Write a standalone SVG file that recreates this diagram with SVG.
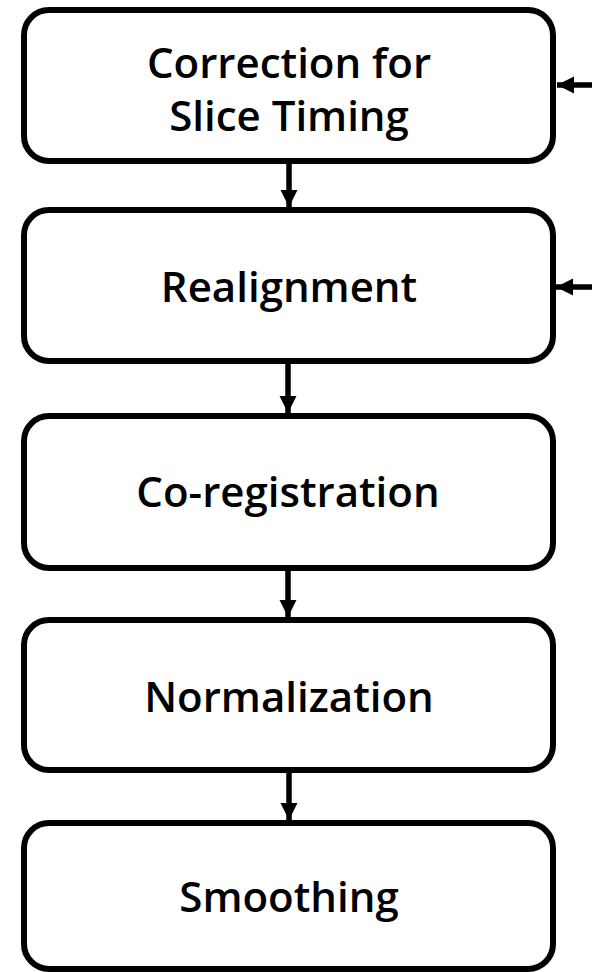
<svg xmlns="http://www.w3.org/2000/svg" width="592" height="972" viewBox="0 0 592 972">
<style>
.box{fill:#fff;stroke:#000;stroke-width:6}
.lbl{font-family:"Open Sans","Noto Sans",sans-serif;font-weight:600;font-size:42px;fill:#000;text-anchor:middle}
.con{stroke:#000;stroke-width:5.5;fill:none}
</style>
<defs>
<marker id="ah" viewBox="0 0 10 10" refX="10" refY="5" markerWidth="3.1" markerHeight="3.2" orient="auto" markerUnits="strokeWidth">
<path d="M0,0 L10,5 L0,10 z" fill="#000"/>
</marker>
</defs>
<g id="n1"><rect class="box" x="24" y="10" width="529" height="151" rx="25"/>
<text class="lbl" x="289" y="78">Correction for</text>
<text class="lbl" x="289" y="131">Slice Timing</text></g>
<g id="n2"><rect class="box" x="24" y="210" width="529" height="151" rx="25"/>
<text class="lbl" x="289" y="302">Realignment</text></g>
<g id="n3"><rect class="box" x="24" y="416" width="529" height="152" rx="25"/>
<text class="lbl" x="288" y="507">Co-registration</text></g>
<g id="n4"><rect class="box" x="24" y="620" width="529" height="150" rx="25"/>
<text class="lbl" x="289" y="712">Normalization</text></g>
<g id="n5"><rect class="box" x="24" y="823" width="529" height="146" rx="25"/>
<text class="lbl" x="289" y="912">Smoothing</text></g>
<g id="connectors">
<line class="con" x1="289" y1="164" x2="289" y2="207" marker-end="url(#ah)"/>
<line class="con" x1="288" y1="364" x2="288" y2="413" marker-end="url(#ah)"/>
<line class="con" x1="288" y1="571" x2="288" y2="617" marker-end="url(#ah)"/>
<line class="con" x1="289" y1="773" x2="289" y2="820" marker-end="url(#ah)"/>
<line class="con" x1="592" y1="85" x2="557" y2="85" marker-end="url(#ah)"/>
<line class="con" x1="592" y1="287" x2="556" y2="287" marker-end="url(#ah)"/>
</g>
</svg>
